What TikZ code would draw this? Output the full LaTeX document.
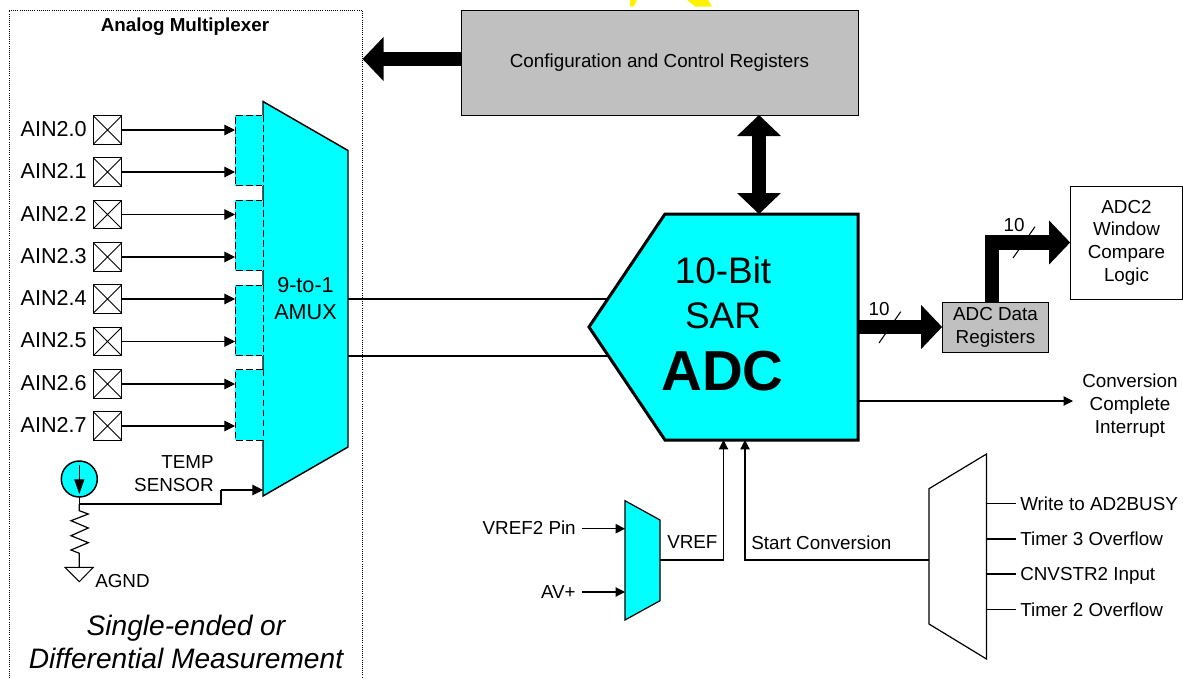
\documentclass[tikz,border=0pt]{standalone}
\usepackage{fontspec}
\setmainfont{Liberation Sans}
\usetikzlibrary{arrows.meta}
\definecolor{cy}{RGB}{0,255,255}
\definecolor{gr}{RGB}{192,192,192}
\newcommand{\fsA}{\fontsize{16.2pt}{20pt}\selectfont}
\newcommand{\fsB}{\fontsize{14.12pt}{17.25pt}\selectfont}
\tikzset{
  wire/.style={line width=0.8pt,draw=black},
  sarrow/.style={wire,-{Triangle[length=8pt,width=8pt]}},
  uarrow/.style={wire,-{Triangle[length=7pt,width=7pt]}},
  bus/.style={line width=11pt,draw=black,line join=miter,-{Triangle[length=15.75pt,width=32pt]}},
  dbus/.style={line width=11pt,draw=black,{Triangle[length=15.75pt,width=32pt]}-{Triangle[length=15.75pt,width=32pt]}},
  pin/.style={draw=black,line width=0.75pt,minimum width=21.5pt,minimum height=21.5pt,inner sep=0pt,outer sep=0pt},
  bank/.style={fill=cy,minimum width=21pt,minimum height=53pt,inner sep=0pt,outer sep=0pt},
  lab/.style={font=\fsB,inner sep=0pt,align=center},
  ain/.style={font=\fsA,inner sep=0pt,anchor=east},
  regbox/.style={draw=black,line width=0.75pt,fill=gr,inner sep=0pt,outer sep=0pt,align=center,font=\fsB},
}
\begin{document}
\begin{tikzpicture}[x=0.75pt,y=-0.75pt]
\useasboundingbox (0,0) rectangle (1183,679);
% yellow fragments at the top edge
\fill[yellow] (630,0) -- (637,0) -- (634,6.5) -- (630,6.5) -- cycle;
\fill[yellow] (687,0) -- (708,0) -- (712,6.5) -- (695,6.5) -- cycle;
% multiplexer frame
\draw[line width=0.6pt,densely dotted] (9,680) -- (9,10) -- (362,10) -- (362,680);
\node[font=\bfseries\fontsize{14.1pt}{17pt}\selectfont,inner sep=0pt] (amtitle) at (185,27) {Analog Multiplexer};
% named coordinates
\coordinate (m1) at (263,101.5); \coordinate (m2) at (348,150.5); \coordinate (m3) at (348,447); \coordinate (m4) at (263,496);
\coordinate (a1) at (665,214); \coordinate (a2) at (858,214); \coordinate (a3) at (858,440); \coordinate (a4) at (665,440); \coordinate (a5) at (589,327);
% wires mux to ADC
\coordinate (wa) at (348,299); \coordinate (wb) at (348,356);
\coordinate (wa2) at (610,299); \coordinate (wb2) at (610,356);
\draw[wire,line width=1pt] (wa) -- (wa2);
\draw[wire,line width=1pt] (wb) -- (wb2);
% banks
\foreach \n/\y in {0/150.5,1/235.5,2/320.5,3/405}{
  \node[bank] (g\n) at (249,\y) {};
  \draw[line width=0.75pt,dash pattern=on 5pt off 2.5pt] (g\n.north east) -- (g\n.north west) -- (g\n.south west) -- (g\n.south east);
}
% pins
\foreach \n/\y in {0/130,1/172,2/214.5,3/257,4/299,5/341.5,6/384,7/426}{
  \node[pin] (p\n) at (107.5,\y) {};
  \draw[line width=0.75pt] (p\n.north west) -- (p\n.south east) (p\n.north east) -- (p\n.south west);
  \node[ain] (t\n) at (87,\y-1) {AIN2.\n};
}
\foreach \n/\g in {0/0,1/0,2/1,3/1,4/2,5/2,6/3,7/3}{
  \draw[sarrow] (p\n.east) -- (p\n.east -| g\g.west);
}
% mux body
\draw[line width=1.1pt,fill=cy] (m1) -- (m2) -- (m3) -- (m4) -- cycle;
\foreach \n in {0,1,2,3}{
  \draw[line width=1.2pt,cy] (g\n.north east) -- (g\n.south east);
  \draw[line width=0.75pt,dash pattern=on 5pt off 2.5pt] (g\n.north east) -- (g\n.south east);
}
\node[font=\fsA,inner sep=0pt,align=center] (amux) at (305.5,298.5) {9-to-1\\AMUX};
% temp sensor
\node[circle,draw=black,line width=1.1pt,fill=cy,minimum size=27pt,inner sep=0pt,outer sep=0pt] (ts) at (79.3,479) {};
\coordinate (ts1) at (79.3,465); \coordinate (ts2) at (79.3,494);
\draw[wire,-{Triangle[length=11pt,width=7.5pt]}] (ts1) -- (ts2);
\coordinate (jn) at (79.3,504);
\coordinate (tsin) at (263,490);
\draw[wire] (ts.south) -- (jn) -- (221,504) -- (221,490);
\draw[sarrow] (221,490) -- (tsin);
\node[lab,anchor=east] (temp1) at (214,462) {TEMP};
\node[lab,anchor=east] (temp2) at (214,485.5) {SENSOR};
\coordinate (gnd) at (79.3,567.3);
\draw[line width=0.9pt,line join=miter] (jn) -- (79.3,510.7) -- (88.3,514) -- (71,520.7) -- (88.3,528) -- (71,535.7) -- (88.3,542.7) -- (71,550) -- (79.3,553.3) -- (gnd);
\draw[line width=0.75pt] (65,567.3) -- (93.3,567.3) -- (79.3,581.7) -- cycle;
\node[lab,anchor=west] (agnd) at (95,581) {AGND};
\node[font=\itshape\fontsize{21.1pt}{25pt}\selectfont,inner sep=0pt,align=center] (meas) at (186,642) {Single-ended or\\Differential Measurement};
% config registers
\node[regbox,minimum width=297.75pt,minimum height=78.75pt] (cfg) at (659.5,62.5) {Configuration and Control Registers};
\coordinate (frame) at (362.5,59);
\draw[bus] (cfg.west |- frame) -- (frame);
% ADC
\coordinate (adct) at (759,214);
\draw[dbus] (cfg.south -| adct) -- (adct);
\draw[line width=2.25pt,line join=miter,fill=cy] (a1) -- (a2) -- (a3) -- (a4) -- (a5) -- cycle;
\node[font=\fontsize{27.7pt}{34pt}\selectfont,inner sep=0pt,align=center] (adc1) at (723,292.5) {10-Bit\\SAR};
\node[font=\bfseries\fontsize{42.3pt}{48pt}\selectfont,inner sep=0pt] (adc2) at (722.5,371) {ADC};
% data registers
\node[regbox,minimum width=80pt,minimum height=37pt] (data) at (995.5,327.5) {ADC Data\\Registers};
\node[regbox,fill=white,minimum width=84.5pt,minimum height=84.75pt] (win) at (1126.5,242.5) {\raisebox{-0.7pt}{ADC2}\\Window\\Compare\\Logic};
\coordinate (out) at (858,327);
\draw[bus] (out) -- (data.west |- out);
\coordinate (bend) at (992,242.5);
\draw[bus] (data.north -| bend) -- (bend) -- (win.west |- bend);
\draw[wire] (879,343) -- (900.7,311.7);
\draw[wire] (1013,258) -- (1035,226.7);
\node[lab] (n1) at (879,309.5) {10};
\node[lab] (n2) at (1014,225.5) {10};
% interrupt
\coordinate (ci) at (858,401); \coordinate (ci2) at (1073,401);
\draw[uarrow] (ci) -- (ci2);
\node[lab] (conv) at (1130,406) {Conversion\\Complete\\Interrupt};
% vref mux
\coordinate (v1) at (625,500.7); \coordinate (v2) at (660,520); \coordinate (v3) at (660,600.7); \coordinate (v4) at (625,620);
\draw[line width=0.9pt,fill=cy] (v1) -- (v2) -- (v3) -- (v4) -- cycle;
\node[lab,anchor=east] (vpin) at (576,528) {VREF2 Pin};
\node[lab,anchor=east] (av) at (576,592) {AV+};
\draw[uarrow] (582,528.7) -- (v1 |- 0,528.7);
\draw[uarrow] (582,592) -- (v1 |- 0,592);
\coordinate (vo) at (660,560); \coordinate (adcv) at (723.5,440);
\draw[uarrow] (vo) -| (adcv);
\node[lab,anchor=west] (vref) at (667,542) {VREF};
% start mux
\coordinate (s1) at (929,488.7); \coordinate (s2) at (986.5,454); \coordinate (s3) at (986.5,659); \coordinate (s4) at (929,624);
\draw[line width=0.9pt,fill=white] (s1) -- (s2) -- (s3) -- (s4) -- cycle;
\coordinate (so) at (929,560); \coordinate (adcs) at (745,440);
\draw[uarrow] (so) -| (adcs);
\node[lab,anchor=west] (sc) at (751,542.5) {Start Conversion};
\foreach \n/\y/\t in {0/503.5/Write to AD2BUSY,1/539/Timer 3 Overflow,2/574/CNVSTR2 Input,3/609.5/Timer 2 Overflow}{
  \node[lab,anchor=base west] (st\n) at (1020,\y+6.5) {\t};
  \coordinate (sw\n) at (986.5,\y);
  \draw[wire] (sw\n) -- (1015.5,\y);
}
\end{tikzpicture}
\end{document}
